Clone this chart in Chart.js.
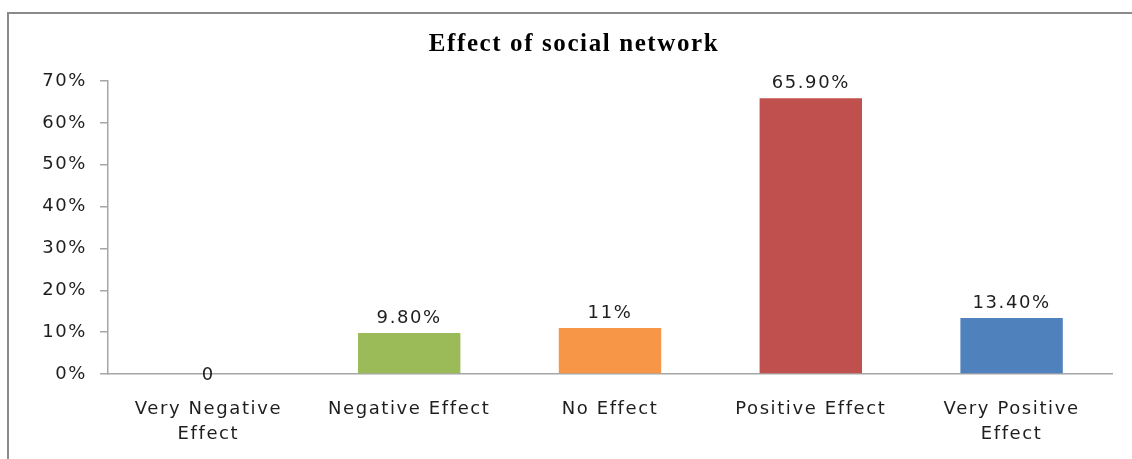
<!DOCTYPE html>
<html>
<head>
<meta charset="utf-8">
<script src="https://cdn.jsdelivr.net/npm/chart.js@4.4.1/dist/chart.umd.min.js"></script>
<style>
  html,body{margin:0;padding:0;background:#fff;overflow:hidden;}
  #wrap{position:relative;width:1132px;height:459px;}
  #frame{position:absolute;left:7px;top:12px;width:1140px;height:460px;border-top:2px solid #8a8a8a;border-left:2px solid #8a8a8a;pointer-events:none;}
  canvas{position:absolute;left:0;top:0;}
</style>
</head>
<body>
<div id="wrap">
  <canvas id="chart" width="1132" height="459"></canvas>
  <div id="frame"></div>
</div>
<script>
/* Effect of social network — single-series column chart */

const CATEGORIES = [["Very Negative","Effect"], "Negative Effect", "No Effect", "Positive Effect", ["Very Positive","Effect"]];
const VALUES = [0, 9.8, 11, 65.9, 13.4];
const VALUE_LABELS = ["0", "9.80%", "11%", "65.90%", "13.40%"];
const BAR_COLORS = ["#4F81BD", "#9BBB59", "#F79646", "#C0504D", "#4F81BD"];
const Y_TICKS = [0, 10, 20, 30, 40, 50, 60, 70];

const TXT = "#1e1e1e";
const AXIS = "#a6a6a6";
const FONT = "'DejaVu Sans', sans-serif";
const SPACING = "1.6px";   // reference text is horizontally stretched

// wider letter spacing for every text the chart measures/draws
const spacing = {
  id: "spacing",
  beforeUpdate(chart){ chart.ctx.letterSpacing = SPACING; },
  beforeDraw(chart){ chart.ctx.letterSpacing = SPACING; }
};

// value labels above each column (Excel "outside end")
const valueLabels = {
  id: "valueLabels",
  afterDatasetsDraw(chart){
    const ctx = chart.ctx;
    const meta = chart.getDatasetMeta(0);
    ctx.save();
    ctx.letterSpacing = SPACING;
    ctx.font = "18px " + FONT;
    ctx.fillStyle = TXT;
    ctx.textAlign = "center";
    ctx.textBaseline = "middle";
    meta.data.forEach((bar, i) => {
      const y = VALUES[i] === 0 ? bar.y + 1 : bar.y - 15;
      ctx.fillText(VALUE_LABELS[i], bar.x, y);
    });
    ctx.restore();
  }
};

new Chart(document.getElementById("chart"), {
  type: "bar",
  data: {
    labels: CATEGORIES,
    datasets: [{
      data: VALUES,
      backgroundColor: BAR_COLORS,
      borderWidth: 0,
      barPercentage: 0.51,
      categoryPercentage: 1
    }]
  },
  options: {
    responsive: false,
    animation: false,
    devicePixelRatio: 1,
    layout: { padding: { left: 36, right: 20, top: 0, bottom: 0 } },
    plugins: {
      legend: { display: false },
      tooltip: { enabled: false },
      title: {
        display: true,
        text: "Effect of social network",
        color: "#000",
        font: { family: "'Liberation Serif', serif", size: 25, weight: "bold", lineHeight: 1.2 },
        padding: { top: 30, bottom: 21 }
      }
    },
    scales: {
      x: {
        grid: { display: false, drawTicks: false },
        border: { display: true, color: AXIS, width: 1.5 },
        ticks: { color: TXT, padding: 23, maxRotation: 0, autoSkip: false,
                 font: { family: FONT, size: 18, lineHeight: 1.39 } },
        afterFit(scale){ scale.height = 85; }
      },
      y: {
        min: 0, max: 70,
        afterBuildTicks(scale){ scale.ticks = Y_TICKS.map(v => ({ value: v })); },
        grid: { drawOnChartArea: false, drawTicks: true, tickLength: 8, color: AXIS, lineWidth: 1.5 },
        border: { display: true, color: AXIS, width: 1.5 },
        ticks: { color: TXT, padding: 13, callback: v => v + "%",
                 font: { family: FONT, size: 18 } },
        afterFit(scale){ scale.width = 72; }
      }
    }
  },
  plugins: [spacing, valueLabels]
});
</script>
</body>
</html>
